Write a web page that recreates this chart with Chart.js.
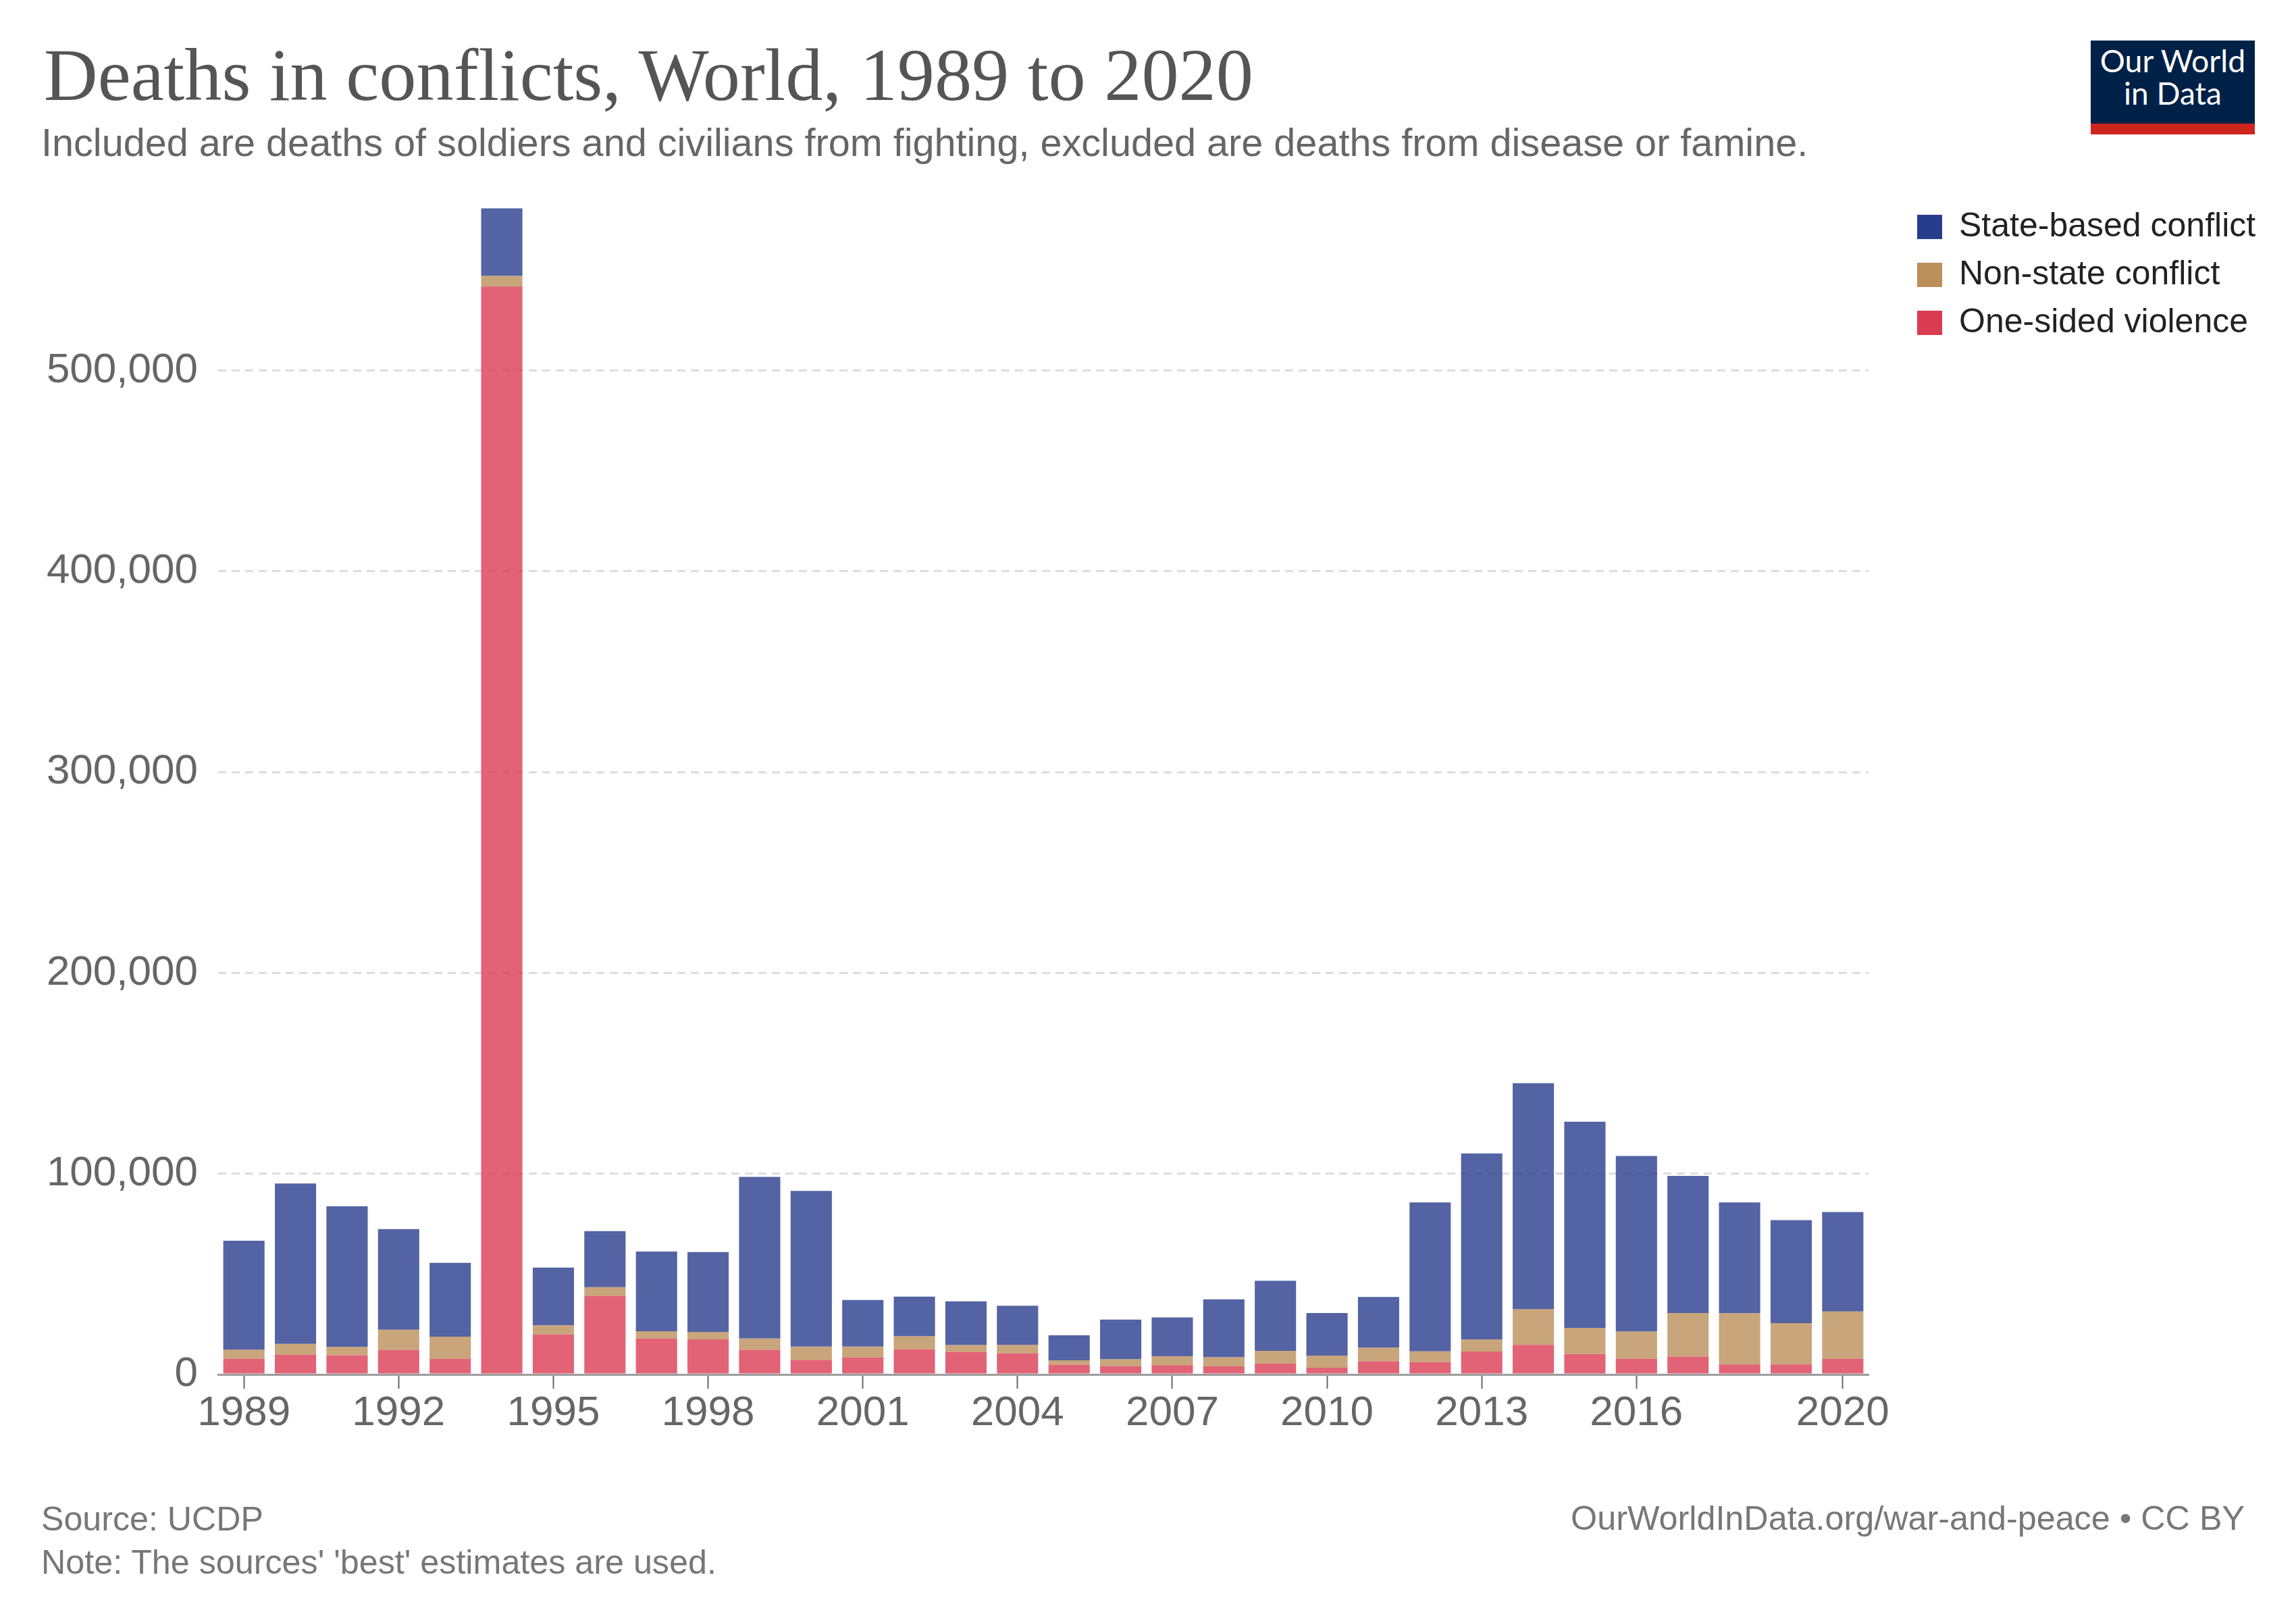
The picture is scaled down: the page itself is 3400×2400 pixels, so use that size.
<!DOCTYPE html>
<html>
<head>
<meta charset="utf-8">
<script src="https://cdn.jsdelivr.net/npm/chart.js@4.4.1/dist/chart.umd.min.js"></script>
<style>
  html, body { margin: 0; padding: 0; background: #fff; }
  #wrap { position: relative; width: 3400px; height: 2400px; overflow: hidden; background: #fff; }
  #c { position: absolute; left: 0; top: 0; }
  .t { position: absolute; white-space: nowrap; line-height: 1; margin: 0; }
  #logo { position: absolute; left: 3096px; top: 60px; width: 243px; height: 139px; background: #002147; }
  #logo .bar { position: absolute; left: 0; right: 0; bottom: 0; height: 16px; background: #ce261e; }
</style>
</head>
<body>
<div id="wrap">
  <canvas id="c" width="3400" height="2400"></canvas>
  <div id="logo"><div class="bar"></div></div>
</div>
<script>
// ---------------- DATA ----------------
const years = ['1989','1990','1991','1992','1993','1994','1995','1996','1997','1998','1999','2000',
               '2001','2002','2003','2004','2005','2006','2007','2008','2009','2010','2011','2012',
               '2013','2014','2015','2016','2017','2018','2019','2020'];
const xTickLabels = ['1989','1992','1995','1998','2001','2004','2007','2010','2013','2016','2020'];
const yTickValues = [0, 100000, 200000, 300000, 400000, 500000];

const oneSided = [7800, 9800, 9600, 12200, 7800, 541800, 19900, 39100, 17900, 17500, 12300, 7200,
                  8500, 12500, 11200, 10500, 4800, 4100, 4600, 4000, 5400, 3400, 6600, 6100,
                  11400, 14700, 10200, 7800, 8900, 5000, 5000, 7800];
const nonState = [4500, 5400, 4100, 10100, 11000, 5300, 4600, 4400, 3600, 3700, 5600, 6700,
                  5400, 6500, 3400, 4200, 2300, 3500, 4400, 4600, 6400, 6000, 6800, 5400,
                  6000, 17800, 13000, 13600, 21700, 25500, 20600, 23600];
const stateBased = [54300, 79900, 70100, 50100, 36800, 33700, 28700, 27900, 39700, 39800, 80500, 77500,
                    23200, 19800, 21800, 19500, 12400, 19700, 19400, 28800, 34900, 21200, 25200, 74200,
                    92700, 112600, 102700, 87400, 68300, 55200, 51300, 49500];

const seriesNames = ['One-sided violence', 'Non-state conflict', 'State-based conflict'];

const titleText = 'Deaths in conflicts, World, 1989 to 2020';
const subtitleText = 'Included are deaths of soldiers and civilians from fighting, excluded are deaths from disease or famine.';
const sourceText = 'Source: UCDP';
const noteText = "Note: The sources' 'best' estimates are used.";
const urlText = 'OurWorldInData.org/war-and-peace • CC BY';
const logoLines = ['Our World', 'in Data'];

// ---------------- STYLE ----------------
const SOLID = ['rgb(218,60,83)', 'rgb(188,142,90)', 'rgb(40,60,140)'];
const BARS  = ['rgba(218,60,83,0.8)', 'rgba(188,142,90,0.8)', 'rgba(40,60,140,0.8)'];
const SANS = "'Liberation Sans', Arial, sans-serif";
const SERIF = "'Liberation Serif', 'Times New Roman', serif";

const AREA = { left: 323, right: 2767, top: 290, bottom: 2035 };
const Y_MAX = 587000;
const LEG = { pad: 21, box: 37, boxH: 36, font: 50 };
const GAP = 51;

// ---------------- HTML TEXT ----------------
const wrap = document.getElementById('wrap');
const mctx = document.createElement('canvas').getContext('2d');
function placeText(str, o) {
  let size = o.size;
  mctx.font = `${size}px ${o.fam}`;
  if (o.w) {
    const w0 = mctx.measureText(str).width;
    size = size * o.w / w0;
    mctx.font = `${size}px ${o.fam}`;
  }
  const m = mctx.measureText(str);
  const asc = m.fontBoundingBoxAscent, desc = m.fontBoundingBoxDescent;
  const top = o.base - ((size - (asc + desc)) / 2 + asc);
  const el = document.createElement('div');
  el.className = 't';
  el.textContent = str;
  el.style.fontFamily = o.fam;
  el.style.fontSize = size + 'px';
  el.style.color = o.col;
  el.style.top = top + 'px';
  const parent = o.parent || wrap;
  if (o.align === 'right') {
    el.style.right = (o.pw - o.x) + 'px';
  } else if (o.align === 'center') {
    el.style.left = o.x + 'px';
    el.style.transform = 'translateX(-50%)';
  } else {
    el.style.left = o.x + 'px';
  }
  parent.appendChild(el);
}

placeText(titleText,    { x: 65, base: 148, size: 100, w: 1793, fam: SERIF, col: '#555555' });
placeText(subtitleText, { x: 61, base: 232, size: 50, w: 2617, fam: SANS, col: '#666666' });
placeText(sourceText,   { x: 61, base: 2266, size: 48, w: 329, fam: SANS, col: '#777777' });
placeText(noteText,     { x: 61, base: 2330, size: 48, w: 1001, fam: SANS, col: '#777777' });
placeText(urlText,      { x: 3324, base: 2266, size: 48, w: 998, fam: SANS, col: '#777777', align: 'right', pw: 3400 });
const logo = document.getElementById('logo');
placeText(logoLines[0], { x: 121.5, base: 107.3 - 60, size: 40, w: 217, fam: "Lato, 'Open Sans', sans-serif", col: '#ffffff', align: 'center', parent: logo });
placeText(logoLines[1], { x: 121.5, base: 156 - 60, size: 40, w: 145, fam: "Lato, 'Open Sans', sans-serif", col: '#ffffff', align: 'center', parent: logo });

// ---------------- CHART ----------------
Chart.defaults.font.family = SANS;
mctx.font = `${LEG.font}px ${SANS}`;
const legendTextW = Math.max(...seriesNames.map(s => mctx.measureText(s).width));
const legendW = 10 + LEG.pad + LEG.box + LEG.font / 2 + legendTextW;
const padRight = 3400 - AREA.right - GAP - legendW;

const shown = i => xTickLabels.includes(years[i]);

const chart = new Chart(document.getElementById('c'), {
  type: 'bar',
  data: {
    labels: years,
    datasets: [
      { label: seriesNames[0], data: oneSided,   backgroundColor: BARS[0] },
      { label: seriesNames[1], data: nonState,   backgroundColor: BARS[1] },
      { label: seriesNames[2], data: stateBased, backgroundColor: BARS[2] }
    ]
  },
  options: {
    responsive: false,
    maintainAspectRatio: false,
    animation: false,
    devicePixelRatio: 1,
    datasets: { bar: { barPercentage: 0.8, categoryPercentage: 1.0, borderWidth: 0 } },
    layout: { padding: { top: AREA.top, left: 0, bottom: 0, right: padRight } },
    scales: {
      x: {
        stacked: true,
        offset: true,
        afterFit: s => { s.height = 2400 - AREA.bottom; },
        grid: {
          offset: false, drawOnChartArea: false, drawTicks: true, tickLength: 21, tickWidth: 2,
          color: 'rgba(0,0,0,0)',
          tickColor: c => shown(c.index) ? '#666666' : 'rgba(0,0,0,0)'
        },
        border: { display: true, color: '#9c9c9c', width: 3 },
        ticks: {
          autoSkip: false, maxRotation: 0, minRotation: 0, padding: 6,
          color: '#666666', font: { size: 62, lineHeight: 1 },
          callback: (v, i) => shown(i) ? years[i] : ''
        }
      },
      y: {
        stacked: true,
        position: 'left',
        min: 0,
        max: Y_MAX,
        afterBuildTicks: axis => { axis.ticks = yTickValues.map(v => ({ value: v })); },
        afterFit: s => { s.width = AREA.left; },
        grid: {
          drawTicks: false, lineWidth: 3,
          color: c => (c.tick && c.tick.value === 0) ? 'rgba(0,0,0,0)' : '#dddddd'
        },
        border: { display: false, dash: [12, 8] },
        ticks: {
          padding: 30, color: '#666666', font: { size: 62 },
          callback: v => Number(v).toLocaleString('en-US')
        }
      },
      gap: {
        type: 'linear', position: 'right', display: true,
        grid: { display: false }, border: { display: false }, ticks: { display: false },
        afterFit: s => { s.width = GAP; }
      }
    },
    plugins: {
      tooltip: { enabled: false },
      title: { display: false },
      legend: {
        position: 'right',
        align: 'start',
        reverse: true,
        labels: {
          boxWidth: LEG.box, boxHeight: LEG.boxH, padding: LEG.pad,
          color: '#222222', font: { size: LEG.font },
          generateLabels: ch => Chart.defaults.plugins.legend.labels.generateLabels(ch).map(it =>
            Object.assign(it, { fillStyle: SOLID[it.datasetIndex], strokeStyle: SOLID[it.datasetIndex], lineWidth: 0 }))
        }
      }
    }
  }
});

const diff = chart.chartArea.right - AREA.right;
if (Math.abs(diff) > 0.5) {
  chart.options.layout.padding.right += diff;
  chart.update('none');
}
</script>
</body>
</html>
